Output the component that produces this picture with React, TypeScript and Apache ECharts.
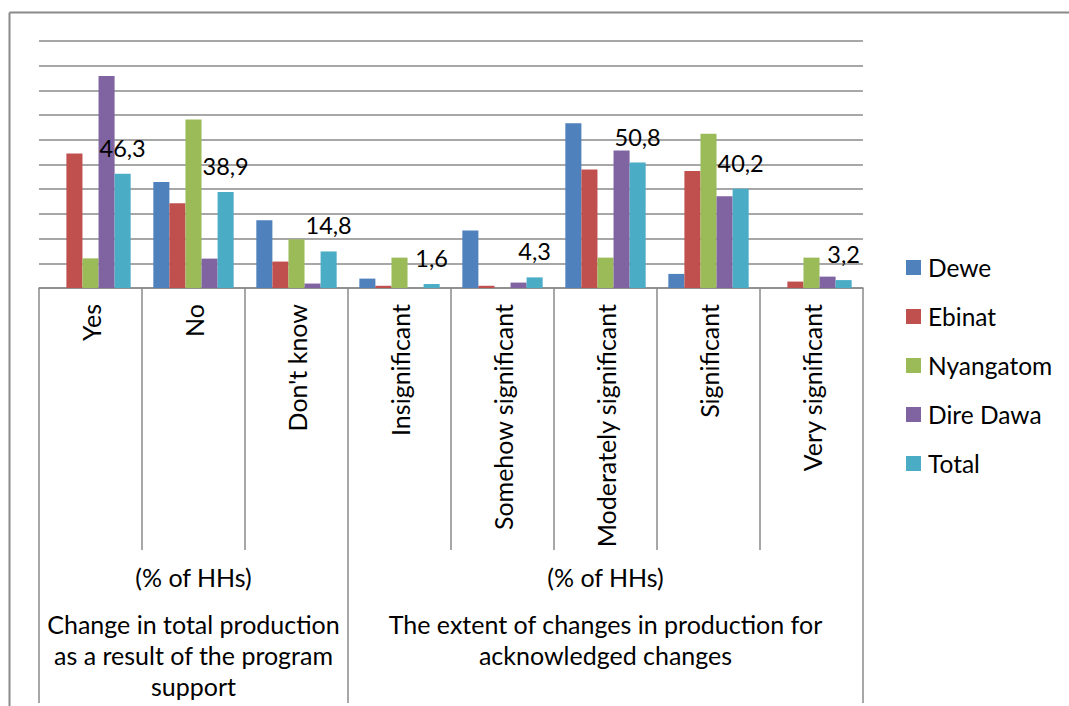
import React, { useEffect, useRef } from "react";
import * as echarts from "echarts";

const categories = [
  "Yes",
  "No",
  "Don't know",
  "Insignificant",
  "Somehow significant",
  "Moderately significant",
  "Significant",
  "Very significant",
];
const unitLabels = ["(% of HHs)", "(% of HHs)"];
const groupTitles = [
  "Change in total production\nas a result of the program\nsupport",
  "The extent of changes in production for\nacknowledged changes",
];
const groupSpans = [
  [0, 2],
  [3, 7],
];
const seriesNames = ["Dewe", "Ebinat", "Nyangatom", "Dire Dawa", "Total"];
const dewe = [0, 42.9, 27.4, 3.8, 23.3, 66.7, 5.7, 0];
const ebinat = [54.5, 34.3, 10.7, 0.9, 0.9, 48.0, 47.4, 2.6];
const nyangatom = [12.0, 68.2, 19.7, 12.3, 0, 12.3, 62.5, 12.3];
const direDawa = [85.8, 11.9, 1.8, 0, 2.2, 55.7, 37.1, 4.6];
const total = [46.3, 38.9, 14.8, 1.6, 4.3, 50.8, 40.2, 3.2];
const seriesData = [dewe, ebinat, nyangatom, direDawa, total];
const colors = ["#4F81BD", "#C0504D", "#9BBB59", "#8064A2", "#4BACC6"];

const W = 1069;
const H = 706;
const GRID = { left: 39, top: 41, width: 824, height: 247 };
const LINE = "#8a8a8a";
const FONT = "Lato";

export default function App() {
  const ref = useRef<HTMLDivElement>(null);
  useEffect(() => {
    if (!ref.current) return;
    const chart = echarts.init(ref.current, null, { renderer: "svg" });
    const series = seriesNames.map((name, i) => ({
      name,
      type: "bar",
      data: seriesData[i],
      itemStyle: { color: colors[i] },
      barGap: "0%",
      barCategoryGap: "22%",
      label:
        name === "Total"
          ? {
              show: true,
              position: "top",
              distance: 14,
              fontSize: 23.5,
              fontFamily: FONT,
              color: "#000",
              formatter: (p: any) => String(p.value).replace(".", ","),
            }
          : { show: false },
    }));
    chart.setOption({
      animation: false,
      backgroundColor: "#fff",
      grid: { ...GRID, containLabel: false },
      legend: {
        orient: "vertical",
        left: 906,
        top: 255,
        padding: 0,
        itemWidth: 15,
        itemHeight: 15,
        itemGap: 24,
        icon: "rect",
        data: seriesNames,
        textStyle: {
          fontSize: 24.5,
          fontFamily: FONT,
          color: "#000",
          lineHeight: 24,
          padding: [0, 0, 0, 2],
        },
      },
      xAxis: {
        type: "category",
        data: categories,
        axisLine: { lineStyle: { color: LINE, width: 1.5 } },
        axisTick: {
          show: true,
          interval: 0,
          length: 262,
          alignWithLabel: false,
          lineStyle: { color: LINE, width: 1.5 },
        },
        axisLabel: {
          interval: 0,
          rotate: 90,
          margin: 16,
          fontSize: 25,
          fontFamily: FONT,
          color: "#000",
        },
      },
      yAxis: {
        type: "value",
        min: 0,
        max: 100,
        interval: 10,
        axisLine: { show: false },
        axisTick: { show: false },
        axisLabel: { show: false },
        splitLine: { lineStyle: { color: LINE, width: 1.5 } },
      },
      series,
    });

    const x0 = chart.convertToPixel({ xAxisIndex: 0 }, 0) as number;
    const x1 = chart.convertToPixel({ xAxisIndex: 0 }, 1) as number;
    const cw = x1 - x0;
    const boundary = (i: number) => x0 - cw / 2 + i * cw;
    const axisY = GRID.top + GRID.height;
    const graphics: any[] = [
      {
        type: "line",
        shape: { x1: 9.5, y1: 12.5, x2: W, y2: 12.5 },
        style: { stroke: LINE, lineWidth: 2 },
      },
      {
        type: "line",
        shape: { x1: 9.5, y1: 12.5, x2: 9.5, y2: H },
        style: { stroke: LINE, lineWidth: 2 },
      },
    ];
    const edges = [groupSpans[0][0], groupSpans[1][0], groupSpans[1][1] + 1];
    edges.forEach((e) => {
      const x = boundary(e);
      graphics.push({
        type: "line",
        shape: { x1: x, y1: axisY + 262, x2: x, y2: 703 },
        style: { stroke: LINE, lineWidth: 1.5 },
      });
    });
    groupSpans.forEach((sp, gi) => {
      const cx = (boundary(sp[0]) + boundary(sp[1] + 1)) / 2;
      graphics.push({
        type: "text",
        x: cx,
        y: 577,
        style: {
          text: unitLabels[gi],
          fontSize: 25,
          fontFamily: FONT,
          fill: "#000",
          align: "center",
          verticalAlign: "middle",
        },
      });
      graphics.push({
        type: "text",
        x: cx,
        y: 608,
        style: {
          text: groupTitles[gi],
          fontSize: 25,
          fontFamily: FONT,
          fill: "#000",
          align: "center",
          verticalAlign: "top",
          lineHeight: 31,
        },
      });
    });
    chart.setOption({ graphic: graphics });
    return () => chart.dispose();
  }, []);
  return (
    <div
      ref={ref}
      style={{ position: "absolute", left: 0, top: 0, width: W, height: H }}
    />
  );
}
